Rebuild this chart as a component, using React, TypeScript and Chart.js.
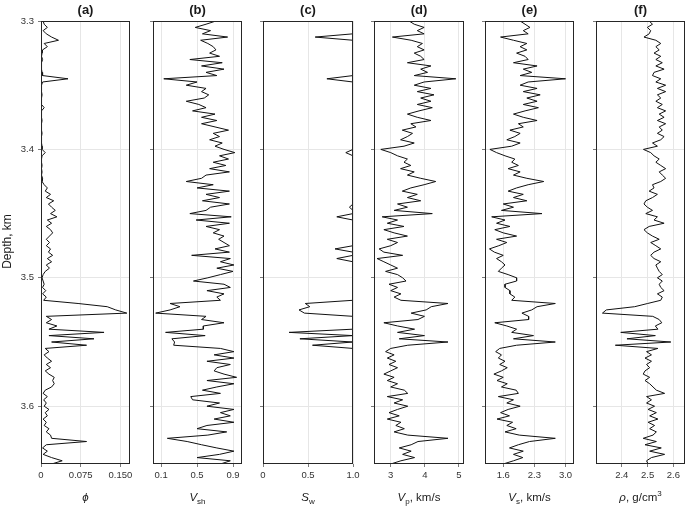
import React, { useEffect, useRef } from 'react';
import { Chart, registerables } from 'chart.js';

Chart.register(...registerables);
Chart.defaults.font.family = '"Liberation Sans", Arial, Helvetica, sans-serif';

// Depth samples (km)
const DEPTH = [
  3.3000, 3.3025, 3.3050, 3.3075, 3.3100, 3.3125, 3.3150, 3.3175, 3.3200, 3.3225,
  3.3250, 3.3275, 3.3300, 3.3325, 3.3350, 3.3375, 3.3400, 3.3425, 3.3450, 3.3475,
  3.3500, 3.3525, 3.3550, 3.3575, 3.3600, 3.3625, 3.3650, 3.3675, 3.3700, 3.3725,
  3.3750, 3.3775, 3.3800, 3.3825, 3.3850, 3.3875, 3.3900, 3.3925, 3.3950, 3.3975,
  3.4000, 3.4025, 3.4050, 3.4075, 3.4100, 3.4125, 3.4150, 3.4175, 3.4200, 3.4225,
  3.4250, 3.4275, 3.4300, 3.4325, 3.4350, 3.4375, 3.4400, 3.4425, 3.4450, 3.4475,
  3.4500, 3.4525, 3.4550, 3.4575, 3.4600, 3.4625, 3.4650, 3.4675, 3.4700, 3.4725,
  3.4750, 3.4775, 3.4800, 3.4825, 3.4850, 3.4875, 3.4900, 3.4925, 3.4950, 3.4975,
  3.5000, 3.5025, 3.5050, 3.5075, 3.5100, 3.5125, 3.5150, 3.5175, 3.5200, 3.5225,
  3.5250, 3.5275, 3.5300, 3.5325, 3.5350, 3.5375, 3.5400, 3.5425, 3.5450, 3.5475,
  3.5500, 3.5525, 3.5550, 3.5575, 3.5600, 3.5625, 3.5650, 3.5675, 3.5700, 3.5725,
  3.5750, 3.5775, 3.5800, 3.5825, 3.5850, 3.5875, 3.5900, 3.5925, 3.5950, 3.5975,
  3.6000, 3.6025, 3.6050, 3.6075, 3.6100, 3.6125, 3.6150, 3.6175, 3.6200, 3.6225,
  3.6250, 3.6275, 3.6300, 3.6325, 3.6350, 3.6375, 3.6400, 3.6425, 3.6450,
];

// (a) porosity
const PHI = [
  0.004, 0.006, 0.012, 0.004, 0.010, 0.020, 0.033, 0.006, 0.012, 0.003,
  0.002, 0.001, 0.003, 0.001, 0.001, 0.001, 0.002, 0.003, 0.051, 0.003,
  0.001, 0.001, 0.001, 0.002, 0.001, 0.001, 0.001, 0.006, 0.001, 0.001,
  0.001, 0.002, 0.001, 0.001, 0.001, 0.002, 0.001, 0.001, 0.001, 0.002,
  0.002, 0.008, 0.002, 0.001, 0.001, 0.002, 0.001, 0.002, 0.001, 0.003,
  0.002, 0.006, 0.012, 0.008, 0.018, 0.010, 0.024, 0.014, 0.020, 0.027,
  0.018, 0.030, 0.012, 0.020, 0.010, 0.018, 0.022, 0.016, 0.010, 0.016,
  0.010, 0.018, 0.014, 0.022, 0.012, 0.020, 0.010, 0.016, 0.008, 0.004,
  0.002, 0.004, 0.006, 0.003, 0.009, 0.003, 0.010, 0.005, 0.070, 0.125,
  0.141, 0.162, 0.010, 0.020, 0.010, 0.030, 0.015, 0.119, 0.015, 0.100,
  0.020, 0.086, 0.008, 0.015, 0.006, 0.012, 0.020, 0.010, 0.018, 0.008,
  0.015, 0.025, 0.022, 0.025, 0.020, 0.008, 0.004, 0.012, 0.005, 0.010,
  0.006, 0.015, 0.008, 0.012, 0.004, 0.010, 0.006, 0.015, 0.010, 0.018,
  0.020, 0.086, 0.010, 0.003, 0.012, 0.004, 0.020, 0.040, 0.020,
];

// (b) shale volume
const VSH = [
  0.71, 0.60, 0.48, 0.65, 0.56, 0.84, 0.54, 0.62, 0.68, 0.71,
  0.64, 0.75, 0.42, 0.78, 0.55, 0.80, 0.60, 0.72, 0.13, 0.50,
  0.38, 0.60, 0.55, 0.63, 0.58, 0.38, 0.52, 0.60, 0.45, 0.70,
  0.55, 0.72, 0.55, 0.70, 0.85, 0.68, 0.75, 0.64, 0.78, 0.70,
  0.80, 0.92, 0.75, 0.85, 0.68, 0.82, 0.64, 0.86, 0.60, 0.55,
  0.38, 0.68, 0.50, 0.86, 0.60, 0.75, 0.56, 0.86, 0.65, 0.60,
  0.42, 0.88, 0.49, 0.86, 0.60, 0.75, 0.68, 0.80, 0.74, 0.80,
  0.86, 0.70, 0.86, 0.44, 0.87, 0.76, 0.91, 0.72, 0.90, 0.76,
  0.62, 0.46, 0.80, 0.87, 0.61, 0.80, 0.72, 0.76, 0.20, 0.31,
  0.20, 0.04, 0.60, 0.55, 0.80, 0.57, 0.57, 0.15, 0.59, 0.22,
  0.25, 0.24, 0.76, 0.91, 0.69, 0.91, 0.61, 0.87, 0.72, 0.69,
  0.80, 0.94, 0.61, 0.91, 0.72, 0.56, 0.76, 0.43, 0.45, 0.75,
  0.61, 0.91, 0.76, 0.87, 0.69, 0.91, 0.61, 0.50, 0.83, 0.62,
  0.17, 0.39, 0.55, 0.72, 0.91, 0.75, 0.50, 0.87, 0.76,
];

// (c) water saturation
const SW = [
  1.00, 1.00, 1.00, 1.00, 1.00, 0.58, 1.00, 1.00, 1.00, 1.00,
  1.00, 1.00, 1.00, 1.00, 1.00, 1.00, 1.00, 1.00, 0.71, 1.00,
  1.00, 1.00, 1.00, 1.00, 1.00, 1.00, 1.00, 1.00, 1.00, 1.00,
  1.00, 1.00, 1.00, 1.00, 1.00, 1.00, 1.00, 1.00, 1.00, 1.00,
  1.00, 0.92, 1.00, 1.00, 1.00, 1.00, 1.00, 1.00, 1.00, 1.00,
  1.00, 1.00, 1.00, 1.00, 1.00, 1.00, 1.00, 1.00, 0.96, 1.00,
  1.00, 0.82, 1.00, 1.00, 1.00, 1.00, 1.00, 1.00, 1.00, 1.00,
  1.00, 0.80, 1.00, 1.00, 0.82, 1.00, 1.00, 1.00, 1.00, 1.00,
  1.00, 1.00, 1.00, 1.00, 1.00, 1.00, 1.00, 1.00, 0.47, 0.52,
  0.40, 0.46, 1.00, 1.00, 1.00, 1.00, 1.00, 0.29, 1.00, 0.41,
  1.00, 0.55, 1.00, 1.00, 1.00, 1.00, 1.00, 1.00, 1.00, 1.00,
  1.00, 1.00, 1.00, 1.00, 1.00, 1.00, 1.00, 1.00, 1.00, 1.00,
  1.00, 1.00, 1.00, 1.00, 1.00, 1.00, 1.00, 1.00, 1.00, 1.00,
  1.00, 1.00, 1.00, 1.00, 1.00, 1.00, 1.00, 1.00, 1.00,
];

// (d) P-wave velocity, km/s
const VP = [
  3.54, 3.69, 3.98, 3.78, 3.98, 3.05, 3.60, 3.93, 3.78, 3.98,
  3.69, 3.88, 3.98, 3.49, 4.18, 3.88, 4.08, 3.69, 4.91, 3.98,
  3.69, 4.18, 3.78, 4.27, 3.88, 4.18, 3.78, 4.22, 3.83, 3.49,
  3.78, 4.18, 3.59, 3.74, 3.34, 3.64, 3.49, 3.29, 3.69, 3.39,
  2.71, 3.00, 3.20, 3.49, 3.39, 3.59, 3.29, 3.69, 3.49, 3.88,
  4.32, 3.98, 3.59, 3.34, 3.78, 3.49, 3.88, 3.20, 3.49, 3.10,
  4.22, 2.75, 3.20, 2.90, 3.39, 2.80, 3.10, 3.49, 2.90, 3.20,
  3.00, 2.66, 2.80, 3.35, 2.60, 2.80, 3.00, 3.20, 2.85, 3.20,
  3.35, 3.45, 2.95, 3.20, 3.00, 3.30, 3.10, 3.30, 4.68, 4.19,
  4.04, 3.60, 3.99, 3.80, 2.80, 3.20, 3.70, 3.20, 3.99, 3.25,
  4.68, 3.50, 3.00, 2.85, 3.10, 2.90, 3.15, 2.95, 3.20, 3.00,
  2.80, 3.10, 2.90, 3.20, 3.00, 3.40, 3.50, 2.90, 3.35, 3.10,
  3.50, 3.20, 2.95, 3.25, 2.90, 3.30, 3.15, 3.40, 3.10, 3.50,
  4.68, 3.80, 3.60, 3.25, 3.60, 3.35, 3.70, 3.30, 3.00,
];

// (e) S-wave velocity, km/s
const VS = [
  1.98, 2.09, 2.20, 2.05, 2.16, 1.54, 1.83, 2.13, 1.98, 2.13,
  1.90, 2.09, 2.16, 1.83, 2.36, 2.05, 2.24, 1.98, 3.00, 2.16,
  1.98, 2.36, 2.05, 2.43, 2.13, 2.36, 2.05, 2.39, 2.09, 1.83,
  2.05, 2.36, 1.94, 2.05, 1.75, 1.98, 1.86, 1.68, 1.98, 1.79,
  1.30, 1.45, 1.64, 1.86, 1.79, 1.94, 1.71, 1.98, 1.83, 2.13,
  2.51, 2.16, 1.90, 1.71, 2.05, 1.83, 2.13, 1.60, 1.83, 1.56,
  2.47, 1.34, 1.64, 1.45, 1.75, 1.41, 1.60, 1.90, 1.45, 1.68,
  1.50, 1.29, 1.40, 1.60, 1.45, 1.56, 1.64, 1.56, 1.49, 1.71,
  1.90, 1.90, 1.64, 1.64, 1.75, 1.75, 1.86, 1.79, 2.77, 2.36,
  2.24, 2.02, 2.17, 2.17, 1.41, 1.68, 1.90, 1.79, 2.28, 1.83,
  2.77, 1.90, 1.52, 1.43, 1.56, 1.49, 1.64, 1.52, 1.69, 1.56,
  1.39, 1.60, 1.46, 1.69, 1.56, 1.89, 1.94, 1.49, 1.83, 1.68,
  1.98, 1.71, 1.54, 1.74, 1.46, 1.81, 1.68, 1.89, 1.64, 1.96,
  2.77, 2.19, 1.94, 1.74, 2.05, 1.83, 2.04, 1.83, 1.60,
];

// (f) density, g/cm3
const RHO = [
  2.506, 2.519, 2.499, 2.512, 2.506, 2.486, 2.532, 2.551, 2.532, 2.545,
  2.525, 2.551, 2.532, 2.557, 2.532, 2.564, 2.525, 2.519, 2.551, 2.532,
  2.570, 2.538, 2.570, 2.538, 2.551, 2.532, 2.557, 2.538, 2.570, 2.545,
  2.564, 2.538, 2.570, 2.545, 2.557, 2.538, 2.564, 2.551, 2.519, 2.538,
  2.484, 2.512, 2.525, 2.545, 2.532, 2.551, 2.570, 2.545, 2.557, 2.570,
  2.551, 2.519, 2.525, 2.506, 2.538, 2.519, 2.493, 2.486, 2.499, 2.519,
  2.493, 2.538, 2.525, 2.564, 2.506, 2.486, 2.499, 2.519, 2.545, 2.512,
  2.532, 2.551, 2.525, 2.512, 2.525, 2.551, 2.532, 2.538, 2.545, 2.557,
  2.538, 2.557, 2.545, 2.551, 2.564, 2.538, 2.557, 2.551, 2.500, 2.450,
  2.340, 2.325, 2.520, 2.545, 2.555, 2.530, 2.540, 2.396, 2.530, 2.420,
  2.590, 2.375, 2.540, 2.496, 2.515, 2.490, 2.515, 2.496, 2.508, 2.490,
  2.483, 2.508, 2.490, 2.508, 2.521, 2.534, 2.566, 2.496, 2.515, 2.496,
  2.527, 2.502, 2.534, 2.508, 2.540, 2.502, 2.527, 2.508, 2.534, 2.521,
  2.483, 2.534, 2.490, 2.553, 2.508, 2.566, 2.515, 2.496, 2.502,
];

// Tick values and labels
const Y_TICKS = [3.3, 3.4, 3.5, 3.6];
const Y_LABELS = ['3.3', '3.4', '3.5', '3.6'];
const X_TICKS_A = [0, 0.075, 0.15];
const X_LABELS_A = ['0', '0.075', '0.150'];
const X_TICKS_B = [0.1, 0.5, 0.9];
const X_LABELS_B = ['0.1', '0.5', '0.9'];
const X_TICKS_C = [0, 0.5, 1.0];
const X_LABELS_C = ['0', '0.5', '1.0'];
const X_TICKS_D = [3, 4, 5];
const X_LABELS_D = ['3', '4', '5'];
const X_TICKS_E = [1.6, 2.3, 3.0];
const X_LABELS_E = ['1.6', '2.3', '3.0'];
const X_TICKS_F = [2.4, 2.5, 2.6];
const X_LABELS_F = ['2.4', '2.5', '2.6'];

type Part = { t: string; it?: boolean; sub?: boolean; sup?: boolean };

const PANELS = [
  { title: '(a)', values: PHI, min: 0, max: 0.168, ticks: X_TICKS_A, labels: X_LABELS_A,
    xlabel: [{ t: 'ϕ', it: true }] as Part[], box: [41, 130], first: true },
  { title: '(b)', values: VSH, min: 0.01, max: 1.0, ticks: X_TICKS_B, labels: X_LABELS_B,
    xlabel: [{ t: 'V', it: true }, { t: 'sh', sub: true }] as Part[], box: [153, 242], first: false },
  { title: '(c)', values: SW, min: 0, max: 1.0, ticks: X_TICKS_C, labels: X_LABELS_C,
    xlabel: [{ t: 'S', it: true }, { t: 'w', sub: true }] as Part[], box: [263, 353], first: false },
  { title: '(d)', values: VP, min: 2.51, max: 5.15, ticks: X_TICKS_D, labels: X_LABELS_D,
    xlabel: [{ t: 'V', it: true }, { t: 'p', sub: true }, { t: ', km/s' }] as Part[], box: [374, 464], first: false },
  { title: '(e)', values: VS, min: 1.19, max: 3.19, ticks: X_TICKS_E, labels: X_LABELS_E,
    xlabel: [{ t: 'V', it: true }, { t: 's', sub: true }, { t: ', km/s' }] as Part[], box: [485, 574], first: false },
  { title: '(f)', values: RHO, min: 2.30, max: 2.645, ticks: X_TICKS_F, labels: X_LABELS_F,
    xlabel: [{ t: 'ρ', it: true }, { t: ', g/cm' }, { t: '3', sup: true }] as Part[], box: [596, 685], first: false },
];

const W = 685;
const H = 506;
const TOP = 21;
const BOTTOM = 464;
const FAMILY = '"Liberation Sans", Arial, Helvetica, sans-serif';
const TEXT = '#1a1a1a';

function drawRich(ctx: CanvasRenderingContext2D, parts: Part[], cx: number, baseline: number, size: number) {
  const small = Math.round(size * 0.68);
  const fontFor = (p: Part) => `${p.it ? 'italic ' : ''}${p.sub || p.sup ? small : size}px ${FAMILY}`;
  const widths = parts.map((p) => {
    ctx.font = fontFor(p);
    return ctx.measureText(p.t).width;
  });
  const total = widths.reduce((s, w) => s + w, 0);
  let x = cx - total / 2;
  ctx.fillStyle = TEXT;
  ctx.textAlign = 'left';
  ctx.textBaseline = 'alphabetic';
  parts.forEach((p, i) => {
    ctx.font = fontFor(p);
    const dy = p.sub ? size * 0.28 : p.sup ? -size * 0.42 : 0;
    ctx.fillText(p.t, x, baseline + dy);
    x += widths[i];
  });
}

function makeDecor(cfg: (typeof PANELS)[number]) {
  return {
    id: 'decor',
    afterDraw(chart: any) {
      const { ctx, chartArea: a } = chart;
      ctx.save();
      ctx.strokeStyle = '#262626';
      ctx.lineWidth = 1;
      ctx.strokeRect(a.left + 0.5, a.top + 0.5, a.right - a.left - 1, a.bottom - a.top - 1);
      const cx = (a.left + a.right) / 2;
      ctx.fillStyle = TEXT;
      ctx.font = `bold 13px ${FAMILY}`;
      ctx.textAlign = 'center';
      ctx.textBaseline = 'alphabetic';
      ctx.fillText(cfg.title, cx, 14);
      drawRich(ctx, cfg.xlabel, cx, 501, 11.5);
      if (cfg.first) {
        ctx.save();
        ctx.translate(11, (TOP + BOTTOM) / 2 - 1);
        ctx.rotate(-Math.PI / 2);
        ctx.font = `12px ${FAMILY}`;
        ctx.textAlign = 'center';
        ctx.fillStyle = TEXT;
        ctx.fillText('Depth, km', 0, 0);
        ctx.restore();
      }
      ctx.restore();
    },
  };
}

function Panel({ cfg }: { cfg: (typeof PANELS)[number] }) {
  const ref = useRef<HTMLCanvasElement>(null);
  const yW = cfg.first ? cfg.box[0] : 8;
  const rPad = cfg.box[1] >= W ? 0 : 12;
  const left = cfg.box[0] - yW;
  const width = yW + (cfg.box[1] - cfg.box[0]) + rPad;

  useEffect(() => {
    if (!ref.current) return;
    const chart = new Chart(ref.current, {
      type: 'scatter',
      data: {
        datasets: [
          {
            data: DEPTH.map((d, i) => ({ x: cfg.values[i], y: d })),
            showLine: true,
            borderColor: '#111111',
            borderWidth: 1,
            pointRadius: 0,
            pointHoverRadius: 0,
            tension: 0,
            fill: false,
          } as any,
        ],
      },
      options: {
        responsive: false,
        animation: false,
        events: [],
        layout: { padding: { left: 0, right: rPad, top: TOP, bottom: 0 } },
        plugins: { legend: { display: false }, tooltip: { enabled: false }, title: { display: false } },
        scales: {
          x: {
            type: 'linear',
            position: 'bottom',
            min: cfg.min,
            max: cfg.max,
            afterBuildTicks: (s: any) => {
              s.ticks = cfg.ticks.map((v) => ({ value: v }));
            },
            afterFit: (s: any) => {
              s.height = H - BOTTOM;
              s.paddingLeft = 0;
              s.paddingRight = 0;
            },
            ticks: {
              autoSkip: false,
              maxRotation: 0,
              minRotation: 0,
              padding: 3,
              color: '#333333',
              font: { size: 9.5 },
              callback: (_v: any, i: number) => cfg.labels[i],
            },
            grid: { color: '#e6e6e6', tickColor: '#7a7a7a', tickLength: 3, lineWidth: 1 },
            border: { display: false },
          },
          y: {
            type: 'linear',
            position: 'left',
            reverse: true,
            min: 3.3,
            max: 3.645,
            afterBuildTicks: (s: any) => {
              s.ticks = Y_TICKS.map((v) => ({ value: v }));
            },
            afterFit: (s: any) => {
              s.width = yW;
              s.paddingTop = 0;
              s.paddingBottom = 0;
            },
            ticks: {
              autoSkip: false,
              padding: 4,
              color: '#333333',
              font: { size: 9.5 },
              callback: (_v: any, i: number) => (cfg.first ? Y_LABELS[i] : ''),
            },
            grid: { color: '#e6e6e6', tickColor: '#7a7a7a', tickLength: 3, lineWidth: 1 },
            border: { display: false },
          },
        },
      } as any,
      plugins: [makeDecor(cfg)],
    });
    return () => chart.destroy();
  }, []);

  return (
    <canvas
      ref={ref}
      width={width}
      height={H}
      style={{ position: 'absolute', left, top: 0, width, height: H }}
    />
  );
}

export default function App() {
  return (
    <div
      style={{
        position: 'fixed',
        left: 0,
        top: 0,
        width: W,
        height: H,
        overflow: 'hidden',
        background: '#ffffff',
      }}
    >
      {PANELS.map((p) => (
        <Panel key={p.title} cfg={p} />
      ))}
    </div>
  );
}
